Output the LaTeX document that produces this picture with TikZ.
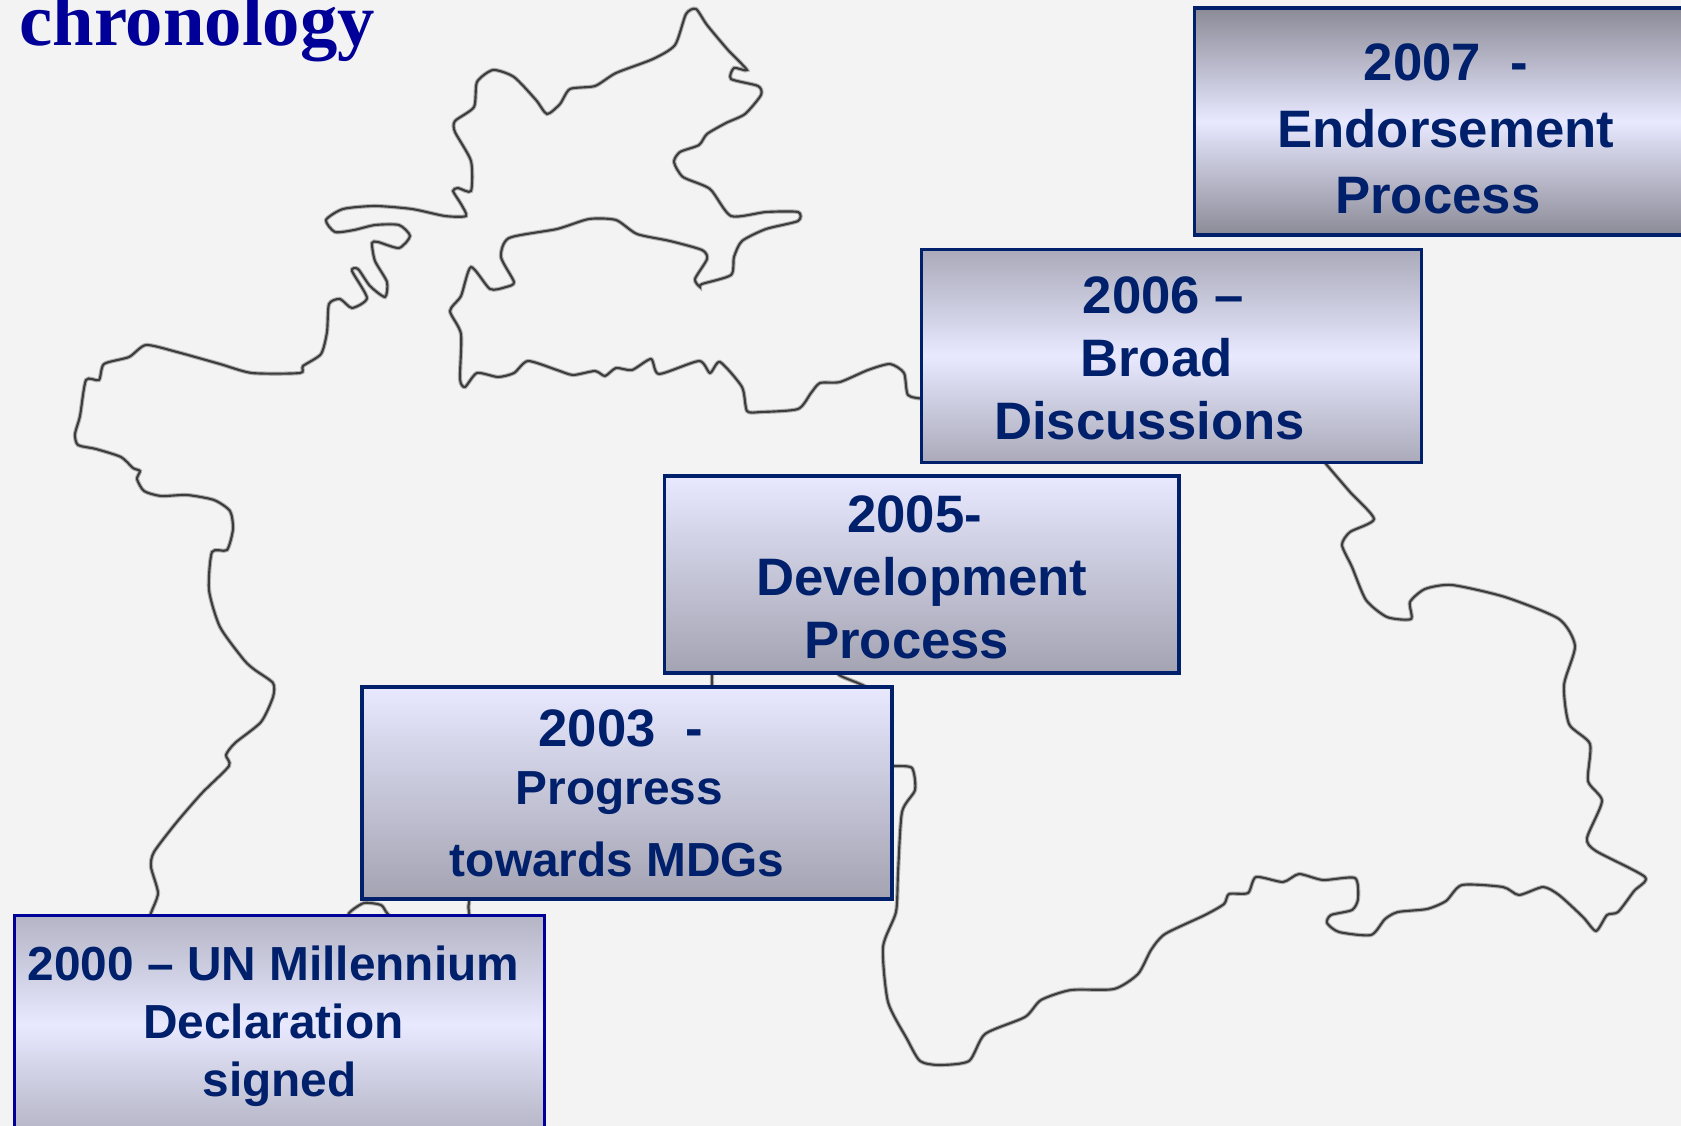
\documentclass[tikz,border=0pt]{standalone}
\usepackage{xcolor}
\usepackage{fontspec}
\setmainfont{Liberation Sans}
\newfontfamily\titlefont{Liberation Serif}
\usetikzlibrary{positioning}
\definecolor{pagegray}{RGB}{243, 243, 243}
\definecolor{mapgray}{RGB}{60, 60, 60}
\definecolor{titleblue}{RGB}{0, 0, 153}
\definecolor{boxblue}{RGB}{0, 32, 107}
\definecolor{boxlight}{RGB}{232, 232, 255}
\definecolor{boxdark}{RGB}{163, 163, 178}
\newcommand{\tailgap}[1]{\rule{#1}{0pt}}
\newcommand{\topgap}[1]{\rule{0pt}{#1}}

\begin{document}
\begin{tikzpicture}[
    x=0.02cm, y=-0.02cm,
    mapline/.style={draw=mapgray, line width=1.2pt, preaction={draw=mapgray!40, line width=2.4pt}},
    title/.style={anchor=base west, inner sep=0pt, text=titleblue, font=\titlefont\bfseries\fontsize{42.5}{42.5}\selectfont},
    timebox/.style={rectangle, draw=boxblue, line width=1.9pt, align=center, text=boxblue, inner sep=0pt,
                    font=\bfseries\fontsize{30}{36}\selectfont},
    smallbox/.style={timebox, font=\bfseries\fontsize{27.2}{33}\selectfont},
    fadedown/.style={top color=boxlight, bottom color=boxdark},
    fademid/.style={top color=#1, bottom color=#1, middle color=boxlight}
]

% Background
\path[fill=pagegray] (0,0) rectangle (1681,1126);
\useasboundingbox (0,0) rectangle (1681,1126);
\clip (0,0) rectangle (1681,1126);

% Map
\draw[mapline] plot[smooth cycle, tension=0.4] coordinates {
  (147,930) (151,913) (158,893) (151,867) (154,852) (176,823) (202,793) (229,766) (226,755) (235,743) (261,722)
  (273,697) (273,683) (255,670) (244,660) (220,627) (209,590) (212,552) (227,550) (233,529) (230,511) (214,500)
  (187,495) (161,496) (144,491)
  (137,479) (140,471) (133,468) (121,457) (96,449) (78,445) (75,434) (80,416) (86,380) (99,380)
  (104,364) (129,357) (146,345) (177,352) (220,364) (252,373) (300,373) (303,366) (321,354) (327,332)
  (329,304) (340,299) (352,308) (367,298) (352,271) (358,269) (370,286) (385,297) (387,282) (375,261)
  (372,243) (378,242) (399,248) (410,236) (399,225) (375,225) (354,230) (335,232) (326,220) (343,209)
  (375,206) (412,209) (445,216) (466,216) (461,204) (453,191) (458,188) (471,191) (471,161) (455,132)
  (455,121) (474,107) (477,82) (493,70) (514,77) (536,100) (547,114) (560,104) (570,89) (595,86)
  (616,73) (653,59) (675,45) (686,14) (696,9) (707,25) (728,50) (747,70) (734,68) (731,79)
  (758,86) (761,95) (745,114) (726,123) (707,134) (699,145) (680,152) (674,162) (683,177) (710,189)
  (731,216) (766,212) (798,212) (798,221) (766,229) (742,241) (734,257) (731,275) (702,284) (700,287)
  (695,279) (707,259) (702,250) (670,241) (637,234) (616,220) (589,219) (557,229) (509,238) (501,257)
  (514,282) (506,287) (490,289) (471,267) (461,296) (450,311) (461,334) (460,379) (465,387) (477,373)
  (498,377) (514,373) (528,361) (557,370) (573,375) (595,371) (605,376) (616,368) (632,370) (651,359)
  (659,374) (699,361) (710,373) (720,362) (742,387) (747,411) (761,412) (798,409) (811,393) (820,383)
  (840,382) (868,370) (890,364) (904,373) (908,395) (925,399) (945,400) (1100,400) (1290,425) (1315,450)
  (1326,464) (1350,492) (1374,519) (1350,532)
  (1342,545) (1352,567) (1366,600) (1387,617) (1411,619) (1410,602) (1425,589) (1452,585) (1505,597) (1559,619)
  (1575,646) (1564,685) (1569,724) (1590,744) (1588,781) (1602,801) (1587,838) (1596,851) (1645,877) (1634,891)
  (1618,912) (1607,915) (1596,931) (1583,917) (1559,895) (1543,887) (1519,895) (1503,887) (1462,885) (1446,901)
  (1427,909) (1398,912) (1385,919) (1371,935) (1339,932) (1327,923) (1331,915) (1352,910) (1358,899) (1355,878)
  (1323,880) (1299,874) (1283,882) (1256,877) (1248,893) (1229,894) (1224,904) (1205,915) (1165,934) (1151,950)
  (1138,974) (1114,989) (1071,990) (1041,1000) (1025,1017) (985,1034) (969,1061) (939,1065) (920,1061) (907,1039)
  (888,1002) (883,947) (896,912) (898,873) (902,812) (915,790) (912,768) (894,766) (878,765) (870,740) (868,700)
  (866,687) (839,675) (825,660) (730,660) (713,672) (712,687) (710,700) (600,800) (480,880) (469,903) (469,913)
  (469,925) (440,935) (400,925) (387,913) (381,905) (364,903) (349,913) (340,930) (200,945)
};

% Title
\node[title] (chrono) at (19,45) {chronology};

% Boxes
\node[smallbox, fademid={boxdark!75!boxlight}, draw=titleblue, anchor=north west, minimum width=10.6cm, minimum height=4.36cm]
  (box2000) at (13,914) {\topgap{21.7pt}2000 -- UN Millennium\tailgap{7pt}\\Declaration\tailgap{7pt}\\signed};
\node[smallbox, fadedown, minimum width=10.6cm, minimum height=4.24cm, above right=0.27cm and -3.72cm of box2000]
  (box2003) {{\fontsize{30}{30}\selectfont 2003~~-}\tailgap{7pt}\\Progress\tailgap{8.5pt}\\[8pt]towards MDGs\tailgap{11pt}};
\node[timebox, fadedown, minimum width=10.3cm, minimum height=3.94cm, above right=0.21cm and -4.62cm of box2003]
  (box2005) {\topgap{24pt}2005-\tailgap{8pt}\\Development\\Process\tailgap{17pt}};
\node[timebox, fademid={boxdark!90!boxlight}, minimum width=10.0cm, minimum height=4.26cm, above right=0.21cm and -5.22cm of box2005]
  (box2006) {\topgap{24pt}2006 --\tailgap{9pt}\\Broad\tailgap{17pt}\\Discussions\tailgap{25pt}};
\node[timebox, fademid={boxdark!85!black}, minimum width=10.04cm, minimum height=4.54cm, above right=0.22cm and -4.60cm of box2006,
      font=\bfseries\fontsize{30}{38}\selectfont]
  (box2007) {\topgap{29.5pt}2007~~-\\Endorsement\\Process\tailgap{9pt}};

\end{tikzpicture}
\end{document}
